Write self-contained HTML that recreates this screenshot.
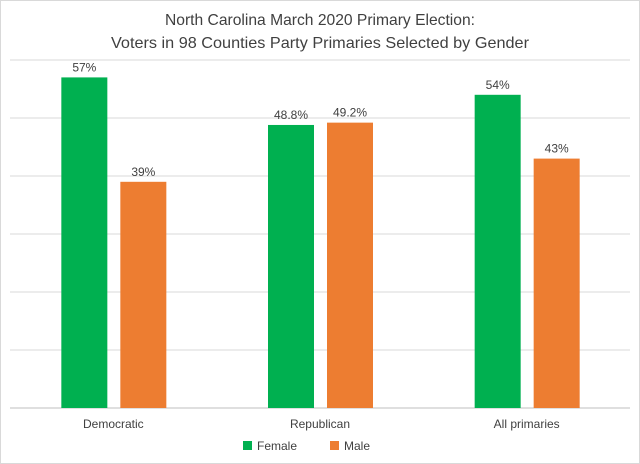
<!DOCTYPE html>
<html><head><meta charset="utf-8"><style>
body{margin:0;background:#fff;}
svg{display:block;font-family:"Liberation Sans",sans-serif;}
</style></head><body>
<svg id="chart" width="640" height="464">
<rect x="0.5" y="0.5" width="639" height="463" fill="#fff" stroke="#d9d9d9"/>
<text x="320" y="25" text-anchor="middle" font-size="16" fill="#404040" textLength="310" lengthAdjust="spacingAndGlyphs">North Carolina March 2020 Primary Election:</text>
<text x="320" y="48" text-anchor="middle" font-size="16" fill="#404040" textLength="418" lengthAdjust="spacingAndGlyphs">Voters in 98 Counties Party Primaries Selected by Gender</text>
<g id="grid"></g>
<g id="bars"></g>
<g id="labels"></g>
<g>
<rect x="243" y="441" width="9" height="9" fill="#00b050"/>
<text x="257" y="450" font-size="12" fill="#404040">Female</text>
<rect x="330" y="441" width="9" height="9" fill="#ed7d31"/>
<text x="344" y="450" font-size="12" fill="#404040">Male</text>
</g>
</svg>
<script>
const categories=["Democratic","Republican","All primaries"];
const female=[57,48.8,54];
const male=[39,49.2,43];
const femaleLabels=["57%","48.8%","54%"];
const maleLabels=["39%","49.2%","43%"];
const gridTicks=[0,10,20,30,40,50,60];
const NS="http://www.w3.org/2000/svg";
const plotL=10,plotR=630,base=408,pxPer=5.8;
const y=v=>base-v*pxPer;
const band=(plotR-plotL)/categories.length;
const cx=i=>plotL+band*(i+0.5);
function mk(tag,attrs,parent){const e=document.createElementNS(NS,tag);for(const k in attrs)e.setAttribute(k,attrs[k]);document.getElementById(parent).appendChild(e);return e;}
gridTicks.forEach(t=>{
  const l=mk("line",{x1:plotL,x2:plotR,y1:y(t),y2:y(t),stroke:t===0?"#bfbfbf":"#d9d9d9","stroke-width":1},"grid");
  
  
});
const bw=46;
categories.forEach((c,i)=>{
  const fx=cx(i)-bw-6, mx=cx(i)+7;
  const fb=mk("rect",{x:fx,y:y(female[i]),width:bw,height:female[i]*pxPer,fill:"#00b050"},"bars");
  
  
  const mb=mk("rect",{x:mx,y:y(male[i]),width:bw,height:male[i]*pxPer,fill:"#ed7d31"},"bars");
  
  
  const fl=mk("text",{x:fx+bw/2,y:y(female[i])-6,"text-anchor":"middle","font-size":12,fill:"#404040"},"labels");
  fl.textContent=femaleLabels[i];
  
  
  const ml=mk("text",{x:mx+bw/2,y:y(male[i])-6,"text-anchor":"middle","font-size":12,fill:"#404040"},"labels");
  ml.textContent=maleLabels[i];
  
  
  const cl=mk("text",{x:cx(i),y:428,"text-anchor":"middle","font-size":12,fill:"#404040"},"labels");
  cl.textContent=c;
  
  
});
</script>
</body></html>
